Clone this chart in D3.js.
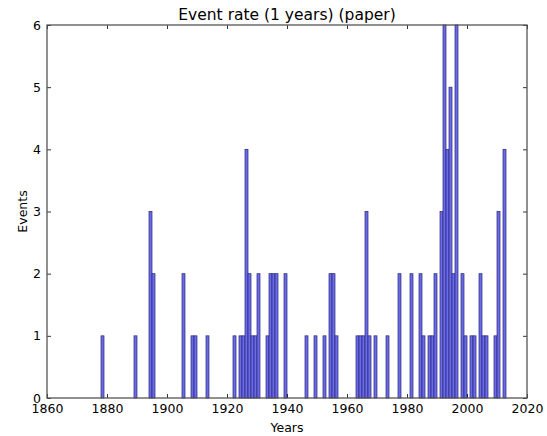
<!DOCTYPE html>
<html>
<head>
<meta charset="utf-8">
<script src="https://cdn.jsdelivr.net/npm/d3@7"></script>
<style>
  body { margin: 0; background: #fff; }
  text { font-family: "DejaVu Sans", sans-serif; fill: #000; }
</style>
</head>
<body>
<svg id="chart" width="547" height="436"></svg>
<script>
// Event counts per year (paper)
const years = [1878, 1889, 1894, 1895, 1905, 1908, 1909, 1913,
  1922, 1924, 1925, 1926, 1927, 1928, 1929, 1930,
  1933, 1934, 1935, 1936, 1939,
  1946, 1949, 1952, 1954, 1955, 1956,
  1963, 1964, 1965, 1966, 1967, 1969, 1973,
  1977, 1981, 1984, 1985, 1987, 1988, 1989,
  1991, 1992, 1993, 1994, 1995, 1996, 1998, 1999,
  2001, 2002, 2004, 2005, 2006, 2009, 2010, 2012];
const events = [1, 1, 3, 2, 2, 1, 1, 1,
  1, 1, 1, 4, 2, 1, 1, 2,
  1, 2, 2, 2, 2,
  1, 1, 1, 2, 2, 1,
  1, 1, 1, 3, 1, 1, 1,
  2, 2, 2, 1, 1, 1, 2,
  3, 6, 4, 5, 2, 6, 2, 1,
  1, 1, 2, 1, 1, 1, 3, 4];
const xTicks = [1860, 1880, 1900, 1920, 1940, 1960, 1980, 2000, 2020];
const yTicks = [0, 1, 2, 3, 4, 5, 6];

const width = 547, height = 436;
const margin = { top: 25, right: 20, bottom: 38, left: 47 };
const chartWidth = width - margin.left - margin.right;
const chartHeight = height - margin.top - margin.bottom;

const xScale = d3.scaleLinear().domain([1860, 2020]).range([0, chartWidth]);
const yScale = d3.scaleLinear().domain([0, 6]).range([chartHeight, 0]);

const svg = d3.select('#chart');
const chart = svg.append('g')
  .attr('transform', `translate(${margin.left}, ${margin.top})`);

// bars, one year wide, left edge at the year
chart.selectAll('rect.bar')
  .data(years.map((y, i) => ({ year: y, n: events[i] })))
  .enter()
  .append('rect')
  .attr('class', 'bar')
  .attr('x', d => xScale(d.year))
  .attr('y', d => yScale(d.n))
  .attr('width', d => xScale(d.year + 1) - xScale(d.year))
  .attr('height', d => yScale(0) - yScale(d.n))
  .style('fill', '#6b6be8')
  .style('stroke', '#26267a')
  .style('stroke-width', 0.7);

// axes with inward ticks (matplotlib classic look)
const styleAxis = g => {
  g.select('.domain').remove();
  g.selectAll('line').attr('stroke', '#000').attr('stroke-width', 0.8);
  g.selectAll('text').style('font-size', '12.5px').style('font-family', '"DejaVu Sans", sans-serif');
};

chart.append('g')
  .attr('transform', `translate(0, ${chartHeight})`)
  .call(d3.axisBottom(xScale).tickValues(xTicks).tickFormat(d3.format('d'))
    .tickSizeInner(-4).tickSizeOuter(0).tickPadding(6))
  .call(styleAxis);

chart.append('g')
  .call(d3.axisTop(xScale).tickValues(xTicks).tickFormat('')
    .tickSizeInner(-4).tickSizeOuter(0))
  .call(styleAxis);

chart.append('g')
  .call(d3.axisLeft(yScale).tickValues(yTicks).tickFormat(d3.format('d'))
    .tickSizeInner(-4).tickSizeOuter(0).tickPadding(6))
  .call(styleAxis);

chart.append('g')
  .attr('transform', `translate(${chartWidth}, 0)`)
  .call(d3.axisRight(yScale).tickValues(yTicks).tickFormat('')
    .tickSizeInner(-4).tickSizeOuter(0))
  .call(styleAxis);

// frame
chart.append('rect')
  .attr('width', chartWidth)
  .attr('height', chartHeight)
  .style('fill', 'none')
  .style('stroke', '#555')
  .style('stroke-width', 1.3);

// title and axis labels
svg.append('text')
  .attr('x', margin.left + chartWidth / 2)
  .attr('y', 20)
  .style('text-anchor', 'middle')
  .style('font-size', '15.5px')
  .text('Event rate (1 years) (paper)');

svg.append('text')
  .attr('x', margin.left + chartWidth / 2)
  .attr('y', 432)
  .style('text-anchor', 'middle')
  .style('font-size', '12.5px')
  .text('Years');

svg.append('text')
  .attr('x', -(margin.top + chartHeight / 2))
  .attr('y', 27)
  .attr('transform', 'rotate(-90)')
  .style('text-anchor', 'middle')
  .style('font-size', '12.5px')
  .text('Events');
</script>
</body>
</html>
